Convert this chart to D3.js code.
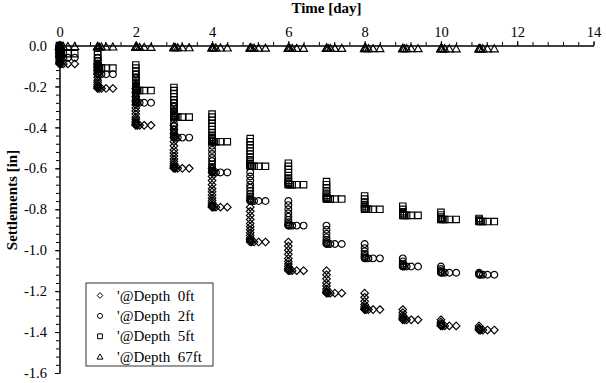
<!DOCTYPE html>
<html>
<head>
<meta charset="utf-8">
<script src="https://cdn.jsdelivr.net/npm/d3@7"></script>
<style>
  body { margin: 0; background: #fff; }
  text { font-family: "Liberation Serif", "Times New Roman", serif; fill: #000; }
</style>
</head>
<body>
<div id="chart"></div>
<script>
// load steps (one per day) and the follow-up readings after each step
var days = [0, 1, 2, 3, 4, 5, 6, 7, 8, 9, 10, 11];
var trailOffsets = [0.04, 0.1, 0.22, 0.4];

var xTicks = [0, 2, 4, 6, 8, 10, 12, 14];
var yTicks = [0, -0.2, -0.4, -0.6, -0.8, -1.0, -1.2, -1.4, -1.6];

// settlement readings [in] taken during each load step (last one = held value)
var depth0ft = [
  [0, -0.01, -0.025, -0.04, -0.055, -0.065, -0.075, -0.082, -0.087, -0.09],
  [-0.09, -0.105, -0.12, -0.14, -0.155, -0.17, -0.18, -0.19, -0.198, -0.204, -0.208, -0.21],
  [-0.21, -0.23, -0.25, -0.27, -0.29, -0.305, -0.32, -0.335, -0.35, -0.36, -0.37, -0.378, -0.384, -0.388, -0.39],
  [-0.39, -0.41, -0.43, -0.45, -0.47, -0.49, -0.51, -0.525, -0.54, -0.555, -0.567, -0.578, -0.587, -0.594, -0.598, -0.6],
  [-0.6, -0.62, -0.64, -0.66, -0.68, -0.70, -0.715, -0.73, -0.745, -0.757, -0.768, -0.777, -0.784, -0.788, -0.79],
  [-0.79, -0.81, -0.83, -0.85, -0.87, -0.885, -0.9, -0.915, -0.928, -0.94, -0.948, -0.955, -0.96],
  [-0.96, -0.98, -1.0, -1.02, -1.04, -1.055, -1.068, -1.08, -1.089, -1.095, -1.1],
  [-1.1, -1.12, -1.14, -1.16, -1.175, -1.19, -1.2, -1.206, -1.21],
  [-1.21, -1.23, -1.25, -1.265, -1.276, -1.284, -1.289, -1.29],
  [-1.29, -1.305, -1.318, -1.328, -1.335, -1.34],
  [-1.34, -1.352, -1.361, -1.367, -1.37],
  [-1.37, -1.38, -1.386, -1.39]
];
var depth2ft = [
  [0, -0.01, -0.022, -0.034, -0.044, -0.052, -0.057, -0.06],
  [-0.06, -0.075, -0.09, -0.105, -0.117, -0.127, -0.134, -0.138, -0.14],
  [-0.14, -0.16, -0.18, -0.2, -0.22, -0.235, -0.25, -0.262, -0.271, -0.277, -0.28],
  [-0.28, -0.3, -0.32, -0.34, -0.36, -0.38, -0.395, -0.41, -0.423, -0.434, -0.442, -0.447, -0.45],
  [-0.45, -0.47, -0.49, -0.51, -0.53, -0.55, -0.565, -0.58, -0.593, -0.604, -0.612, -0.617, -0.62],
  [-0.62, -0.64, -0.66, -0.68, -0.695, -0.71, -0.725, -0.738, -0.748, -0.755, -0.76],
  [-0.76, -0.78, -0.8, -0.82, -0.837, -0.852, -0.864, -0.873, -0.878, -0.88],
  [-0.88, -0.9, -0.92, -0.937, -0.95, -0.96, -0.966, -0.97],
  [-0.97, -0.99, -1.005, -1.018, -1.028, -1.035, -1.04],
  [-1.04, -1.055, -1.066, -1.074, -1.079, -1.08],
  [-1.08, -1.092, -1.101, -1.107, -1.11],
  [-1.11, -1.116, -1.12]
];
var depth5ft = [
  [0, -0.008, -0.016, -0.024, -0.031, -0.036, -0.039, -0.04],
  [-0.03, -0.045, -0.06, -0.075, -0.088, -0.098, -0.105, -0.109, -0.11],
  [-0.095, -0.11, -0.125, -0.14, -0.155, -0.17, -0.185, -0.197, -0.207, -0.214, -0.218, -0.22],
  [-0.205, -0.22, -0.235, -0.25, -0.265, -0.28, -0.295, -0.31, -0.322, -0.332, -0.34, -0.345, -0.348, -0.35],
  [-0.335, -0.35, -0.365, -0.38, -0.395, -0.41, -0.425, -0.438, -0.449, -0.458, -0.464, -0.468, -0.47],
  [-0.455, -0.47, -0.485, -0.5, -0.515, -0.53, -0.545, -0.558, -0.569, -0.578, -0.584, -0.588, -0.59],
  [-0.575, -0.59, -0.605, -0.62, -0.635, -0.648, -0.659, -0.668, -0.674, -0.678, -0.68],
  [-0.665, -0.68, -0.695, -0.71, -0.722, -0.732, -0.74, -0.745, -0.748, -0.75],
  [-0.735, -0.75, -0.765, -0.777, -0.787, -0.794, -0.798, -0.8],
  [-0.785, -0.8, -0.812, -0.821, -0.827, -0.83],
  [-0.815, -0.828, -0.838, -0.845, -0.849, -0.85],
  [-0.845, -0.853, -0.858, -0.86]
];
var depth67ft = [
  [0, -0.002, -0.004],
  [-0.003, -0.005, -0.006],
  [-0.005, -0.007, -0.008],
  [-0.007, -0.009, -0.01],
  [-0.009, -0.01, -0.011],
  [-0.01, -0.011, -0.012],
  [-0.011, -0.012, -0.013],
  [-0.012, -0.013, -0.013],
  [-0.012, -0.013, -0.014],
  [-0.013, -0.014, -0.014],
  [-0.013, -0.014, -0.015],
  [-0.014, -0.015, -0.015]
];

var seriesNames = ["'@Depth  0ft", "'@Depth  2ft", "'@Depth  5ft", "'@Depth  67ft"];

// marker shapes
var shapes = {
  diamond: function (r) { return "M0," + (-r) + "L" + r + ",0L0," + r + "L" + (-r) + ",0Z"; },
  circle: function (r) { return "M" + (-r) + ",0A" + r + "," + r + " 0 1,0 " + r + ",0A" + r + "," + r + " 0 1,0 " + (-r) + ",0Z"; },
  square: function (r) { return "M" + (-r) + "," + (-r) + "H" + r + "V" + r + "H" + (-r) + "Z"; },
  triangle: function (r) { return "M0," + (-r) + "L" + (r * 1.05) + "," + (r * 0.85) + "L" + (-r * 1.05) + "," + (r * 0.85) + "Z"; }
};

var series = [
  { name: seriesNames[0], data: depth0ft, shape: "diamond", r: 3.8 },
  { name: seriesNames[1], data: depth2ft, shape: "circle", r: 3.4 },
  { name: seriesNames[2], data: depth5ft, shape: "square", r: 3.2 },
  { name: seriesNames[3], data: depth67ft, shape: "triangle", r: 3.8 }
];

var svg = d3.select("#chart").append("svg")
  .attr("width", 606).attr("height", 383);

var x = d3.scaleLinear().domain([0, 14]).range([59.5, 593.5]);
var y = d3.scaleLinear().domain([0, -1.6]).range([45.5, 373]);

// minor ticks
svg.append("g")
  .attr("transform", "translate(0,45.5)")
  .call(d3.axisTop(x).tickValues(d3.range(0, 14.01, 0.4)).tickSize(3.5).tickSizeOuter(0).tickFormat(""));
svg.append("g")
  .attr("transform", "translate(59.5,0)")
  .call(d3.axisLeft(y).tickValues(d3.range(0, 1.601, 0.04).map(function (v) { return -v; })).tickSize(3.5).tickSizeOuter(0).tickFormat(""));

// major ticks + labels
svg.append("g")
  .attr("transform", "translate(0,45.5)")
  .call(d3.axisTop(x).tickValues(xTicks).tickSize(4.5).tickSizeOuter(0).tickPadding(4));
svg.append("g")
  .attr("transform", "translate(59.5,0)")
  .call(d3.axisLeft(y).tickValues(yTicks).tickSize(4.5).tickSizeOuter(0).tickPadding(8)
    .tickFormat(function (d) { return d.toFixed(1); }));

svg.selectAll(".domain, .tick line").attr("stroke", "#000").attr("stroke-width", 1);
svg.selectAll(".tick text")
  .style("font-family", "'Liberation Serif', serif")
  .style("font-size", "14.5px")
  .attr("fill", "#000");

// markers
series.forEach(function (s) {
  var pts = [];
  s.data.forEach(function (stack, i) {
    stack.forEach(function (v) { pts.push({ t: days[i], v: v }); });
    var last = stack[stack.length - 1];
    trailOffsets.forEach(function (o) { pts.push({ t: days[i] + o, v: last }); });
  });
  svg.append("g").selectAll("path")
    .data(pts)
    .enter().append("path")
    .attr("transform", function (d) { return "translate(" + x(d.t) + "," + y(d.v) + ")"; })
    .attr("d", shapes[s.shape](s.r))
    .attr("fill", "none")
    .attr("stroke", "#000")
    .attr("stroke-width", 1.15);
});

// titles
svg.append("text")
  .attr("x", 326.5).attr("y", 12.5)
  .attr("text-anchor", "middle")
  .style("font-weight", "bold").style("font-size", "15px")
  .text("Time [day]");
svg.append("text")
  .attr("transform", "translate(17,200) rotate(-90)")
  .attr("text-anchor", "middle")
  .style("font-weight", "bold").style("font-size", "15px")
  .text("Settlements [in]");

// legend
var lg = svg.append("g").attr("transform", "translate(86,283)");
lg.append("rect")
  .attr("width", 127).attr("height", 83)
  .attr("fill", "#fff").attr("stroke", "#333").attr("stroke-width", 1);
series.forEach(function (s, i) {
  var row = lg.append("g").attr("transform", "translate(0," + (12.5 + i * 20.4) + ")");
  row.append("path")
    .attr("transform", "translate(14,0)")
    .attr("d", shapes[s.shape](s.r * 0.75))
    .attr("fill", "none").attr("stroke", "#000").attr("stroke-width", 1);
  row.append("text")
    .attr("x", 31).attr("y", 5)
    .style("font-size", "15px")
    .style("white-space", "pre")
    .text(s.name);
});
</script>
</body>
</html>
